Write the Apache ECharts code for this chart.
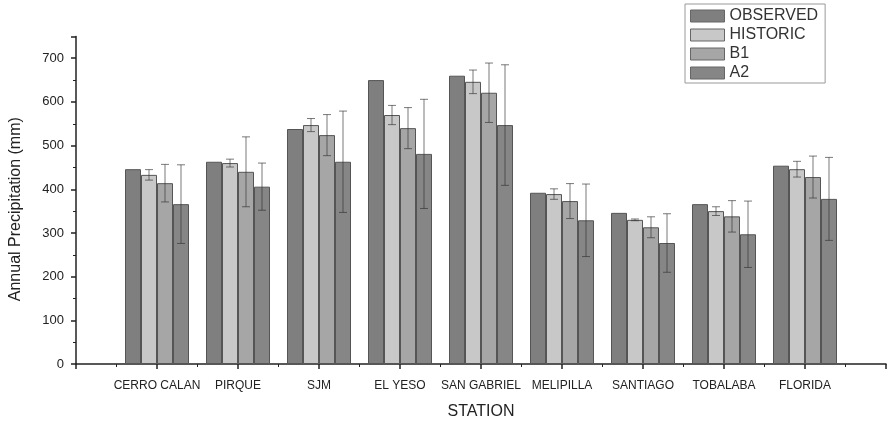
<!DOCTYPE html>
<html>
<head>
<meta charset="utf-8">
<script src="https://cdn.jsdelivr.net/npm/echarts@6/dist/echarts.min.js"></script>
<style>html,body{margin:0;padding:0;background:#fff}#c{width:889px;height:425px}</style>
</head>
<body>
<div id="c"></div>
<script>
var stations = ['CERRO CALAN','PIRQUE','SJM','EL YESO','SAN GABRIEL','MELIPILLA','SANTIAGO','TOBALABA','FLORIDA'];
var seriesNames = ['OBSERVED','HISTORIC','B1','A2'];
var observed = [446, 463, 538, 650, 660, 392, 346, 366, 454];
var historic = [433, 460, 547, 570, 646, 389, 330, 350, 446];
var historicErr = [12, 9, 15, 22, 27, 12, 2, 10, 18];
var b1 = [414, 440, 524, 540, 621, 373, 313, 338, 428];
var b1Err = [43, 80, 47, 47, 68, 40, 24, 36, 48];
var a2 = [366, 406, 463, 481, 547, 329, 277, 297, 378];
var a2Err = [90, 54, 116, 125, 138, 83, 67, 76, 95];
var yTicks = [0, 100, 200, 300, 400, 500, 600, 700];

var colors = ['#7f7f7f', '#c8c8c8', '#a6a6a6', '#868686'];
var values = [observed, historic, b1, a2];
var errs = [null, historicErr, b1Err, a2Err];
var BW = 16;
var font = "'Liberation Sans', Arial, sans-serif";

var series = [];
values.forEach(function (vals, si) {
  series.push({
    name: seriesNames[si],
    type: 'bar',
    barWidth: BW,
    barGap: '0%',
    data: vals.map(function (v, i) { return [i + 1, v]; }),
    itemStyle: { color: colors[si], borderColor: '#555', borderWidth: 1 },
    z: 2
  });
});
errs.forEach(function (e, si) {
  if (!e) return;
  series.push({
    type: 'custom',
    silent: true,
    z: 5,
    data: values[si].map(function (v, i) { return [i + 1, v, e[i]]; }),
    renderItem: function (params, api) {
      var x = api.value(0), v = api.value(1), d = api.value(2);
      var hi = api.coord([x, v + d]);
      var lo = api.coord([x, v - d]);
      var px = hi[0] + (si - 1.5) * BW;
      var cap = 4;
      var st = { stroke: 'rgba(50,50,50,0.65)', lineWidth: 1 };
      return {
        type: 'group',
        children: [
          { type: 'line', shape: { x1: px, y1: hi[1], x2: px, y2: lo[1] }, style: st },
          { type: 'line', shape: { x1: px - cap, y1: hi[1], x2: px + cap, y2: hi[1] }, style: st },
          { type: 'line', shape: { x1: px - cap, y1: lo[1], x2: px + cap, y2: lo[1] }, style: st }
        ]
      };
    }
  });
});

var chart = echarts.init(document.getElementById('c'));
chart.setOption({
  animation: false,
  backgroundColor: '#fff',
  grid: { left: 76, right: 3, top: 36.4, bottom: 60, containLabel: false },
  legend: {
    data: seriesNames,
    orient: 'vertical',
    left: 685,
    top: 4,
    icon: 'rect',
    itemWidth: 34,
    itemHeight: 12,
    itemGap: 3,
    padding: [4, 7, 2, 5],
    borderColor: '#999',
    borderWidth: 1,
    textStyle: { fontFamily: font, fontSize: 16, lineHeight: 12, color: '#333' },
    itemStyle: { borderColor: '#666', borderWidth: 1 }
  },
  xAxis: {
    type: 'value',
    min: 0,
    max: 10,
    interval: 1,
    splitLine: { show: false },
    axisLine: { show: true, lineStyle: { color: '#222', width: 1.5 } },
    axisTick: { show: true, inside: false, length: 5, lineStyle: { color: '#222', width: 1.5 } },
    minorTick: { show: true, splitNumber: 2, length: 3, lineStyle: { color: '#222' } },
    axisLabel: {
      fontFamily: font, fontSize: 12, color: '#222', margin: 16,
      formatter: function (v) { return stations[v - 1] || ''; }
    },
    name: 'STATION',
    nameLocation: 'middle',
    nameGap: 40,
    nameTextStyle: { fontFamily: font, fontSize: 16, color: '#222' }
  },
  yAxis: {
    type: 'value',
    min: 0,
    max: 750,
    interval: 100,
    splitLine: { show: false },
    axisLine: { show: true, lineStyle: { color: '#222', width: 1.5 } },
    axisTick: { show: true, length: 5, lineStyle: { color: '#222', width: 1.5 } },
    minorTick: { show: true, splitNumber: 2, length: 3, lineStyle: { color: '#222' } },
    axisLabel: {
      fontFamily: font, fontSize: 13, color: '#222', margin: 12,
      formatter: function (v) { return yTicks.indexOf(v) >= 0 ? String(v) : ''; }
    },
    name: 'Annual Precipitation (mm)',
    nameLocation: 'middle',
    nameGap: 52,
    nameRotate: 90,
    nameTextStyle: { fontFamily: font, fontSize: 16, color: '#222', padding: [0, 18, 0, 0] }
  },
  series: series
});
</script>
</body>
</html>
